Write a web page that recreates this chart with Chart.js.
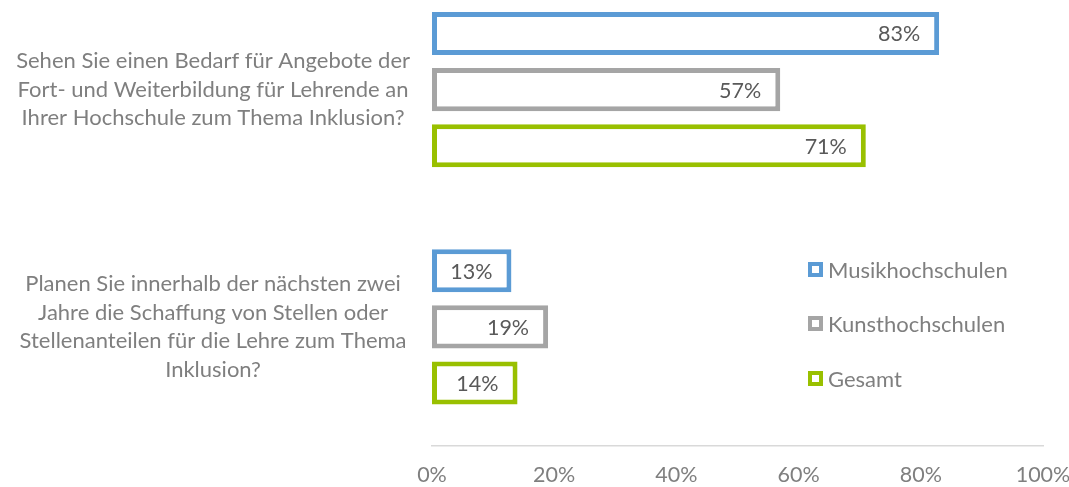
<!DOCTYPE html>
<html>
<head>
<meta charset="utf-8">
<script src="https://cdn.jsdelivr.net/npm/chart.js@4/dist/chart.umd.min.js"></script>
<style>
  html, body { margin: 0; padding: 0; background: #fff; overflow: hidden; }
  #wrap { position: absolute; left: 0; top: -29px; width: 1069px; height: 516px; }
  #legend { position: absolute; left: 808px; top: 257px; font-family: Lato, sans-serif; font-size: 22px; color: #7f7f7f; }
  .item { display: flex; align-items: center; height: 24px; margin-bottom: 30.5px; }
  .box { width: 7px; height: 7px; border: 4px solid; margin-right: 5px; background: #fff; }
</style>
</head>
<body>
<div id="wrap"><canvas id="chart"></canvas></div>
<div id="legend"></div>
<script>
// questions (one array per line of the label)
const questions = [
  ["Sehen Sie einen Bedarf für Angebote der", "Fort- und Weiterbildung für Lehrende an", "Ihrer Hochschule zum Thema Inklusion?"],
  ["Planen Sie innerhalb der nächsten zwei", "Jahre die Schaffung von Stellen oder", "Stellenanteilen für die Lehre zum Thema", "Inklusion?"]
];

// series
const seriesNames = ["Musikhochschulen", "Kunsthochschulen", "Gesamt"];
const musik = [83, 13];
const kunst = [57, 19];
const gesamt = [71, 14];
const seriesColors = ["#5B9BD5", "#A5A5A5", "#99C000"];

// x axis ticks
const xTicks = [0, 20, 40, 60, 80, 100];

// draws the value inside each bar, at its end
const valueLabels = {
  id: "valueLabels",
  afterDatasetsDraw(chart) {
    const ctx = chart.ctx;
    ctx.save();
    ctx.font = "21.5px Lato, sans-serif";
    ctx.fillStyle = "#595959";
    ctx.textAlign = "right";
    ctx.textBaseline = "middle";
    chart.data.datasets.forEach((ds, i) => {
      const meta = chart.getDatasetMeta(i);
      meta.data.forEach((bar, j) => {
        ctx.fillText(ds.data[j] + "%", bar.x - 19, bar.y + 1);
      });
    });
    ctx.restore();
  }
};

const allSeries = [musik, kunst, gesamt];
const datasets = seriesNames.map((name, i) => ({
  label: name,
  data: allSeries[i],
  backgroundColor: "#ffffff",
  borderColor: seriesColors[i],
  borderWidth: 5,
  borderSkipped: false,
  categoryPercentage: 0.709,
  barPercentage: 0.768
}));

new Chart(document.getElementById("chart"), {
  type: "bar",
  data: { labels: questions, datasets: datasets },
  options: {
    indexAxis: "y",
    responsive: true,
    maintainAspectRatio: false,
    animation: false,
    layout: { padding: { left: 0, right: 26, top: 0, bottom: 0 } },
    plugins: { legend: { display: false }, tooltip: { enabled: false } },
    scales: {
      x: {
        min: 0,
        max: 100,
        afterBuildTicks: (scale) => { scale.ticks = xTicks.map(v => ({ value: v })); },
        grid: { display: false, drawTicks: false },
        border: { display: true, color: "#D9D9D9", width: 1.5 },
        ticks: {
          padding: 17,
          color: "#7f7f7f",
          font: { family: "Lato, sans-serif", size: 21.5 },
          callback: (v) => v + "%"
        },
        afterFit: (scale) => {
          scale.height = 41.5;
          scale.paddingLeft = 0;
          scale.paddingRight = 0;
        }
      },
      y: {
        grid: { display: false, drawTicks: false },
        border: { display: false },
        ticks: {
          crossAlign: "center",
          padding: 22,
          color: "#7f7f7f",
          font: { family: "Lato, sans-serif", size: 22, lineHeight: 1.3 }
        },
        afterFit: (scale) => {
          scale.width = 432;
          scale.paddingTop = 0;
          scale.paddingBottom = 0;
        }
      }
    }
  },
  plugins: [valueLabels]
});

// legend on the right
const legend = document.getElementById("legend");
seriesNames.forEach((name, i) => {
  const item = document.createElement("div");
  item.className = "item";
  item.innerHTML = '<span class="box" style="border-color:' + seriesColors[i] + '"></span>' + name;
  legend.appendChild(item);
});
</script>
</body>
</html>
